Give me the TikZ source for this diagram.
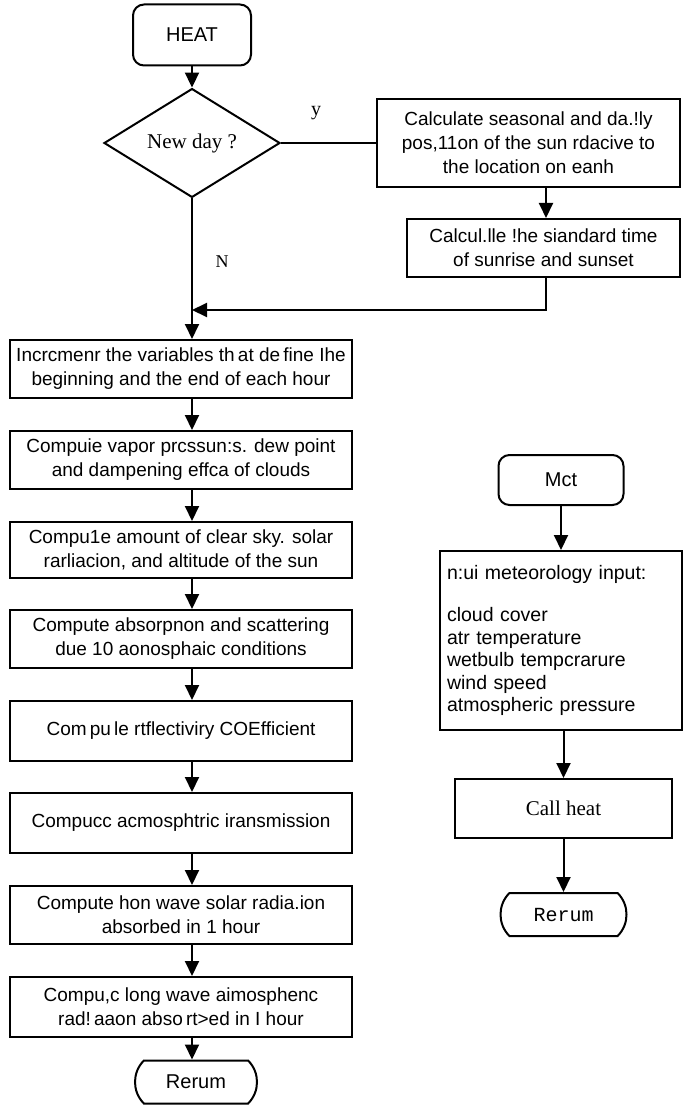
\documentclass[tikz,border=0pt]{standalone}
\usepackage{fontspec}
\setmainfont{Liberation Serif}
\setsansfont{Liberation Sans}
\setmonofont{Liberation Mono}
\usetikzlibrary{shapes.geometric,shapes.misc,arrows.meta}
\begin{document}
\begin{tikzpicture}[x=1pt,y=-1pt,
  box/.style={draw, line width=2pt, inner sep=0pt, align=center,
    font=\sffamily\fontsize{19}{24}\selectfont},
  mainbox/.style={box, minimum width=342pt, minimum height=58pt},
  term/.style={draw, line width=2pt, rounded corners=11pt, inner sep=0pt,
    font=\sffamily\fontsize{20}{24}\selectfont},
  endterm/.style={draw, line width=2pt, rounded rectangle, rounded rectangle arc length=90,
    inner sep=0pt, minimum height=43pt},
  dec/.style={draw, line width=2pt, diamond, inner sep=0pt, minimum width=176pt,
    minimum height=85pt, font=\rmfamily\fontsize{21}{24}\selectfont},
  lbl/.style={inner sep=0pt, font=\rmfamily\fontsize{20}{24}\selectfont},
  conn/.style={line width=2pt},
  arr/.style={line width=2pt, -{Triangle[width=14pt,length=15pt]}}]
\useasboundingbox (0,0) rectangle (683,1107);
\coordinate (col) at (192,0);
% left column
\node[term, minimum width=118pt, minimum height=61pt] (heat) at (192,35) {HEAT};
\node[dec] (nd) at (192,143) {New day ?};
\node[box, minimum width=303pt, minimum height=88pt] (c1) at (528.5,143)
  {Calculate seasonal and da.!ly\\pos,11on of the sun rdacive to\\the location on eanh};
\node[box, minimum width=273pt, minimum height=58pt] (c2) at (543.5,248)
  {Calcul.lle !he siandard time\\of sunrise and sunset};
\coordinate (jx) at (546,310);
\node[lbl] (ylab) at (316,113) {y};
\node[lbl, font=\rmfamily\fontsize{18}{22}\selectfont] (nlab) at (222,262) {N};
\node[mainbox] (b3) at (181,369) {Incrcmenr the variables th\,at de\,fine Ihe\\beginning and the end of each hour};
\node[mainbox] (b4) at (181,460) {Compuie vapor prcssun:s. dew point\\and dampening effca of clouds};
\node[mainbox, minimum height=56pt] (b5) at (181,550) {Compu1e amount of clear sky. solar\\rarliacion, and altitude of the sun};
\node[mainbox] (b6) at (181,639) {Compute absorpnon and scattering\\due 10 aonosphaic conditions};
\node[mainbox, minimum height=60pt] (b7) at (181,731) {Com\,pu\,le rtflectiviry COEfficient};
\node[mainbox, minimum height=60pt] (b8) at (181,823) {Compucc acmosphtric iransmission};
\node[mainbox] (b9) at (181,915) {Compute hon wave solar radia.ion\\absorbed in 1 hour};
\node[mainbox, minimum height=60pt] (b10) at (181,1007) {Compu,c long wave aimosphenc\\rad!\,aaon abso\,rt>ed in I hour};
\node[endterm, minimum width=122pt, font=\sffamily\fontsize{20}{24}\selectfont] (ret1) at (196,1082) {Rerum};
% right column
\node[term, minimum width=125pt, minimum height=50pt] (mct) at (561,480) {Mct};
\node[box, minimum width=242pt, minimum height=179pt, text width=228pt, align=left,
  font=\sffamily\fontsize{19.5}{22.5}\selectfont] (inp) at (561,640.5)
  {n:ui meteorology input:\\[20pt]cloud cover\\atr temperature\\wetbulb tempcrarure\\wind speed\\atmospheric pressure};
\node[box, minimum width=217pt, minimum height=59pt, font=\rmfamily\fontsize{21}{24}\selectfont] (call) at (563.5,808.5) {Call heat};
\node[endterm, minimum width=126pt, font=\ttfamily\fontsize{20}{24}\selectfont] (ret2) at (563.5,914.5) {Rerum};
% connectors
\draw[arr] (heat.south) -- (nd.north);
\draw[conn] (nd.east) -- (c1.west |- nd.east);
\draw[arr] (c1.south -| jx) -- (c2.north -| jx);
\draw[arr] (c2.south -| jx) -- (jx) -- (jx -| col);
\draw[arr] (nd.south) -- (b3.north -| col);
\draw[arr] (b3.south -| col) -- (b4.north -| col);
\draw[arr] (b4.south -| col) -- (b5.north -| col);
\draw[arr] (b5.south -| col) -- (b6.north -| col);
\draw[arr] (b6.south -| col) -- (b7.north -| col);
\draw[arr] (b7.south -| col) -- (b8.north -| col);
\draw[arr] (b8.south -| col) -- (b9.north -| col);
\draw[arr] (b9.south -| col) -- (b10.north -| col);
\draw[arr] (b10.south -| col) -- (ret1.north -| col);
\draw[arr] (mct.south) -- (mct.south |- inp.north);
\draw[arr] (inp.south -| call) -- (call.north);
\draw[arr] (call.south) -- (ret2.north);
\end{tikzpicture}
\end{document}
